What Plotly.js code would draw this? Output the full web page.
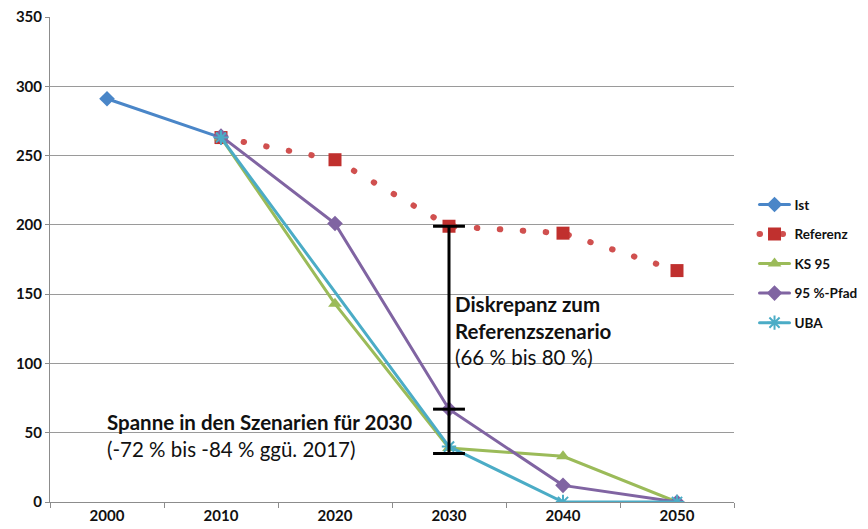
<!DOCTYPE html>
<html>
<head>
<meta charset="utf-8">
<script src="https://cdn.plot.ly/plotly-3.0.1.min.js"></script>
<style>
html,body{margin:0;padding:0;background:#fff;}
#chart{width:868px;height:529px;}
path.js-line{stroke-linecap:round;}
</style>
</head>
<body>
<div id="chart"></div>
<script>
// Data
const years = [2000, 2010, 2020, 2030, 2040, 2050];
const ist = [291, 263, null, null, null, null];
const referenz = [null, 263, 247, 199, 194, 167];
const ks95 = [null, 263, 143, 39, 33, 0];
const pfad95 = [null, 264, 201, 67, 12, 0];
const uba = [null, 263, null, 40, 0, 0];
const tickLabels = ['2000', '2010', '2020', '2030', '2040', '2050'];
const boundaryTicks = [1995, 2005, 2015, 2025, 2035, 2045, 2055];
// bracket (Diskrepanz) levels at 2030: lower span, 95 %-Pfad, Referenz
const bracketYear = 2030;
const bracketLevels = [35, 67, 199];

const FONT = 'Lato, "Open Sans", sans-serif';

function tr(name, y, color, symbol, size, extra) {
  return Object.assign({
    type: 'scatter', mode: 'lines+markers', name: name, x: years, y: y,
    connectgaps: false, legendgroup: name,
    line: {color: color, width: 3},
    marker: {symbol: symbol, size: size, color: color}
  }, extra || {});
}

const data = [
  tr('Ist', ist, '#4a86c8', 'diamond', 12),
  tr('Referenz', referenz, '#c9504d', 'square', 13, {
    line: {color: '#d0504f', width: 6, dash: '0.5px,22.5px'},
    marker: {symbol: 'square', size: 13, color: '#c0302e'}
  }),
  tr('KS 95', ks95, '#9bbb59', 'triangle-up', 12),
  tr('95 %-Pfad', pfad95, '#8064a2', 'diamond', 12),
  tr('UBA', uba, '#4bacc6', 'asterisk-open', 12, {
    connectgaps: true,
    marker: {symbol: 'asterisk-open', size: 12, color: '#4bacc6', line: {color: '#4bacc6', width: 2}}
  })
];

const capHalf = 1.4;
const shapes = [{
  type: 'line', xref: 'x', yref: 'y',
  x0: bracketYear, x1: bracketYear,
  y0: Math.min(...bracketLevels), y1: Math.max(...bracketLevels),
  line: {color: '#000', width: 3}
}].concat(bracketLevels.map(v => ({
  type: 'line', xref: 'x', yref: 'y',
  x0: bracketYear - capHalf, x1: bracketYear + capHalf, y0: v, y1: v,
  line: {color: '#000', width: 3}
})));

const layout = {
  width: 868, height: 529,
  margin: {l: 50, r: 134, t: 17, b: 27, autoexpand: false},
  paper_bgcolor: '#fff', plot_bgcolor: '#fff',
  font: {family: FONT, color: '#111', size: 13},
  showlegend: true,
  legend: {
    x: 1.03, y: 0.645, xanchor: 'left', yanchor: 'top',
    font: {family: FONT, size: 13.5, color: '#111', weight: 'bold'},
    tracegroupgap: 9, bgcolor: 'rgba(0,0,0,0)'
  },
  xaxis: {
    range: [1995, 2055], tickmode: 'array', tickvals: years, ticktext: tickLabels,
    ticks: '', showgrid: false, zeroline: false,
    showline: true, linecolor: '#8c8c8c', linewidth: 1,
    tickfont: {family: FONT, size: 15, color: '#111', weight: 'bold'},
    minor: {tickmode: 'array', tickvals: boundaryTicks, ticks: 'outside', ticklen: 5, tickcolor: '#8c8c8c', showgrid: false},
    fixedrange: true
  },
  yaxis: {
    range: [0, 350], dtick: 50, tick0: 0,
    showgrid: true, gridcolor: '#9a9a9a', gridwidth: 1,
    zeroline: false, showline: true, linecolor: '#8c8c8c', linewidth: 1,
    ticks: 'outside', ticklen: 4, tickcolor: '#8c8c8c',
    tickfont: {family: FONT, size: 15, color: '#111', weight: 'bold'},
    fixedrange: true
  },
  shapes: shapes,
  annotations: [
    {
      xref: 'x', yref: 'y', x: 2030.35, y: 153, xanchor: 'left', yanchor: 'top',
      align: 'left', showarrow: false,
      text: '<b>Diskrepanz zum<br>Referenzszenario</b><br>(66 % bis 80 %)',
      font: {family: FONT, size: 20.5, color: '#111'}
    },
    {
      xref: 'x', yref: 'y', x: 1999.8, y: 67.5, xanchor: 'left', yanchor: 'top',
      align: 'left', showarrow: false,
      text: '<b>Spanne in den Szenarien für 2030</b><br>(-72 % bis -84 % ggü. 2017)',
      font: {family: FONT, size: 20.5, color: '#111'}
    }
  ]
};

Plotly.newPlot('chart', data, layout, {displayModeBar: false, staticPlot: true});
</script>
</body>
</html>
